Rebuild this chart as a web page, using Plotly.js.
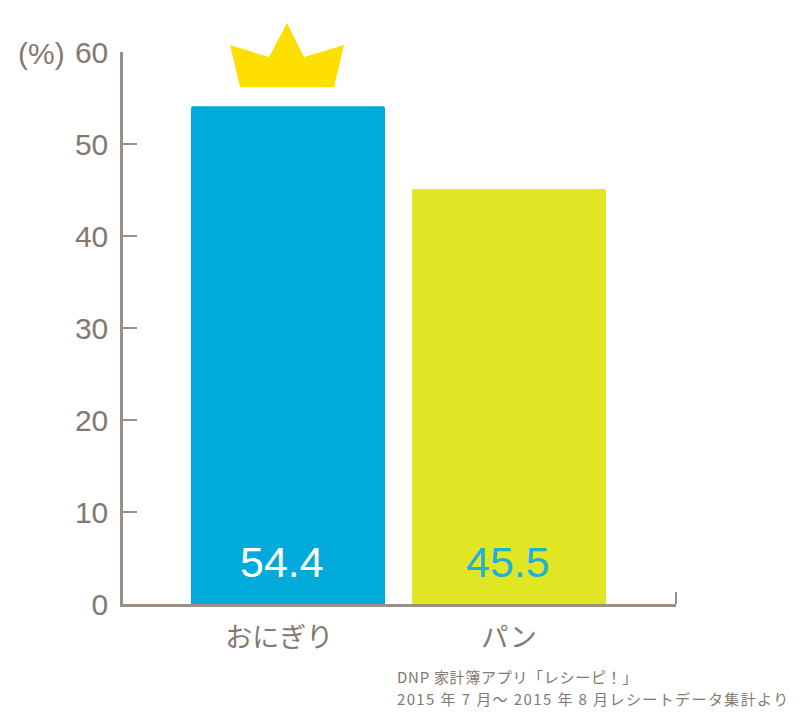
<!DOCTYPE html>
<html><head><meta charset="utf-8">
<script src="https://cdn.plot.ly/plotly-3.0.1.min.js"></script>
<style>html,body{margin:0;padding:0;background:#fff}#c{width:800px;height:725px}
.annotation[data-index="3"] text{letter-spacing:0.7px}
.annotation[data-index="4"] text{letter-spacing:1.4px}</style></head>
<body><div id="c"></div>
<script>
const categories = ['おにぎり', 'パン'];
const barPositions = [0, 1];
const categoryTickPositions = [-0.04, 1];
const barValues = [54.1, 45.1];
const valueLabels = ['54.4', '45.5'];
const valueLabelPositions = [-0.025, 0.995];
const labelColors = ['#ffffff', '#1fb0d8'];
const barColors = ['#00abdb', '#e0e624'];
const yTicks = [0, 10, 20, 30, 40, 50, 60];
const sourceLines = ['DNP 家計簿アプリ「レシーピ！」', '2015 年 7 月～ 2015 年 8 月レシートデータ集計より'];

const W = 800, H = 725, L = 123, R = 676, T = 52, B = 604;
const pw = R - L, ph = B - T;
const px = x => (x - L) / pw, py = y => (B - y) / ph;
const crown = [[230,45],[269,57],[287,23],[304,57],[344,45],[334,87],[240,87]];
const crownPath = crown.map((p, i) => (i ? 'L' : 'M') + px(p[0]) + ',' + py(p[1])).join(' ') + ' Z';
const axisColor = '#9a8e85', textColor = '#85786e';
const jp = 'Noto Sans CJK JP, sans-serif';
const fonts = 'Liberation Sans, Noto Sans CJK JP, sans-serif';

Plotly.newPlot('c', [{
  type: 'bar', x: barPositions, y: barValues, width: 0.878,
  marker: {color: barColors, line: {width: 0}, cornerradius: 2}, hoverinfo: 'skip'
}], {
  width: W, height: H, paper_bgcolor: '#fff', plot_bgcolor: '#fff', showlegend: false,
  margin: {l: L, r: W - R, t: T, b: H - B},
  font: {family: fonts, color: textColor},
  xaxis: {
    type: 'linear', range: [-0.7466, 1.7557], showgrid: false, zeroline: false,
    showline: true, linecolor: axisColor, linewidth: 2.5, ticks: '',
    tickvals: categoryTickPositions, ticktext: categories, ticklabelstandoff: 8,
    tickfont: {size: 27, color: textColor, family: jp}, automargin: false
  },
  yaxis: {
    range: [0, 60], tickvals: yTicks, showgrid: false, zeroline: false,
    showline: true, linecolor: axisColor, linewidth: 2.5,
    ticks: 'inside', ticklen: 14, tickwidth: 2, tickcolor: axisColor, ticklabelstandoff: 6,
    tickfont: {size: 30, color: textColor}, automargin: false
  },
  shapes: [
    {type: 'path', xref: 'paper', yref: 'paper', path: crownPath, fillcolor: '#ffdf00', line: {width: 0}, layer: 'above'},
    {type: 'line', xref: 'paper', yref: 'paper', x0: 1, x1: 1, y0: 0, y1: py(592), line: {color: axisColor, width: 2}}
  ],
  annotations: [
    {xref: 'x', yref: 'paper', x: valueLabelPositions[0], y: py(562), yanchor: 'middle', text: valueLabels[0], showarrow: false, font: {size: 43, color: labelColors[0]}},
    {xref: 'x', yref: 'paper', x: valueLabelPositions[1], y: py(562), yanchor: 'middle', text: valueLabels[1], showarrow: false, font: {size: 43, color: labelColors[1]}},
    {xref: 'paper', yref: 'paper', x: px(18), y: py(53), xanchor: 'left', yanchor: 'middle', xshift: -2, text: '(%)', showarrow: false, font: {size: 30, color: textColor}},
    {xref: 'paper', yref: 'paper', x: px(517), y: py(676), xanchor: 'center', yanchor: 'middle', text: sourceLines[0], showarrow: false, font: {size: 15, color: textColor, family: jp}},
    {xref: 'paper', yref: 'paper', x: px(592.5), y: py(698), xanchor: 'center', yanchor: 'middle', text: sourceLines[1], showarrow: false, font: {size: 15, color: textColor, family: jp}}
  ]
}, {displayModeBar: false, responsive: false});
</script></body></html>
